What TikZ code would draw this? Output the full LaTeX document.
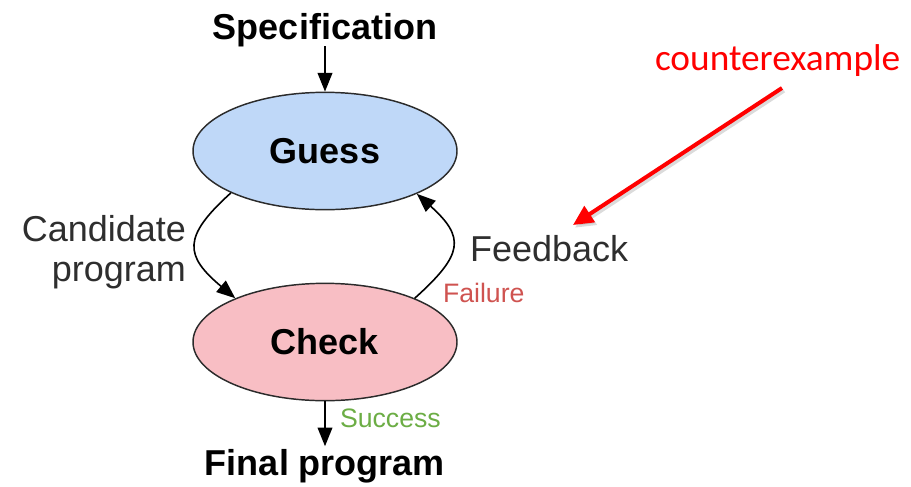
\documentclass[tikz,border=0pt]{standalone}
\usepackage{fontspec}
\setmainfont{Liberation Sans}
\newfontfamily\calib{Carlito}
\usetikzlibrary{shapes.geometric,arrows.meta}
\definecolor{guessfill}{HTML}{BFD8F8}
\definecolor{checkfill}{HTML}{F8BEC4}
\definecolor{outline}{HTML}{2B2B2B}
\definecolor{labelgray}{HTML}{2E2E2E}
\definecolor{failred}{HTML}{CF5350}
\definecolor{okgreen}{HTML}{6CAD45}
\definecolor{alertred}{HTML}{FF0000}
\tikzset{
  big/.style={font=\fontsize{27}{32}\selectfont},
  bigbold/.style={font=\fontsize{27}{32}\selectfont\bfseries},
  small/.style={font=\fontsize{20}{24}\selectfont},
  txt/.style={inner sep=0pt, outer sep=0pt},
  stage/.style={ellipse, draw=outline, line width=1.1pt, minimum width=198pt,
    minimum height=88pt, inner sep=0pt, bigbold},
  flow/.style={draw=black, line width=1.2pt, -{Triangle[length=14pt,width=11pt]}},
  callout/.style={draw=alertred, line width=3pt, -{Triangle[length=15pt,width=14pt]}},
}
\begin{document}
\begin{tikzpicture}[x=0.75pt, y=-0.75pt]
  \useasboundingbox (0,0) rectangle (911,486);

  % stages
  \node[stage, fill=guessfill] (guess) at (325,151) {Guess};
  \node[stage, fill=checkfill] (check) at (325,342) {Check};

  % input and output
  \node[txt, bigbold, anchor=base] (spec) at (325,39) {Specification};
  \node[txt, bigbold, anchor=base] (final) at (325,475) {Final program};
  \draw[flow] (spec.south) -- (guess.north);
  \draw[flow, shorten >=2pt] (check.south) -- (final.north);

  % guess/check loop
  \draw[flow] (guess.204) to[out=222, in=140, looseness=1.6] (check.154);
  \draw[flow] (check.26) to[out=42, in=-42, looseness=1.6] (guess.335);

  % labels
  \node[txt, big, text=labelgray, anchor=base east] (cand1) at (186,241) {Candidate};
  \node[txt, big, text=labelgray, anchor=base east] (cand2) at (186,281) {program};
  \node[txt, big, text=labelgray, anchor=base west] (feed) at (470,261) {Feedback};
  \node[txt, small, text=failred, anchor=base west] (fail) at (443,302) {Failure};
  \node[txt, small, text=okgreen, anchor=base west] (succ) at (340,427) {Success};

  % counterexample callout
  \node[txt, text=alertred, anchor=base west, font=\calib\fontsize{28}{34}\selectfont] (cex) at (655,70) {counterexample};
  \coordinate (cexfrom) at (782,88);
  \coordinate (cexto) at (573,225);
  \draw[callout, draw=black!40, opacity=0.35, transform canvas={xshift=1.5pt, yshift=-2pt}] (cexfrom) -- (cexto);
  \draw[callout] (cexfrom) -- (cexto);
\end{tikzpicture}
\end{document}
